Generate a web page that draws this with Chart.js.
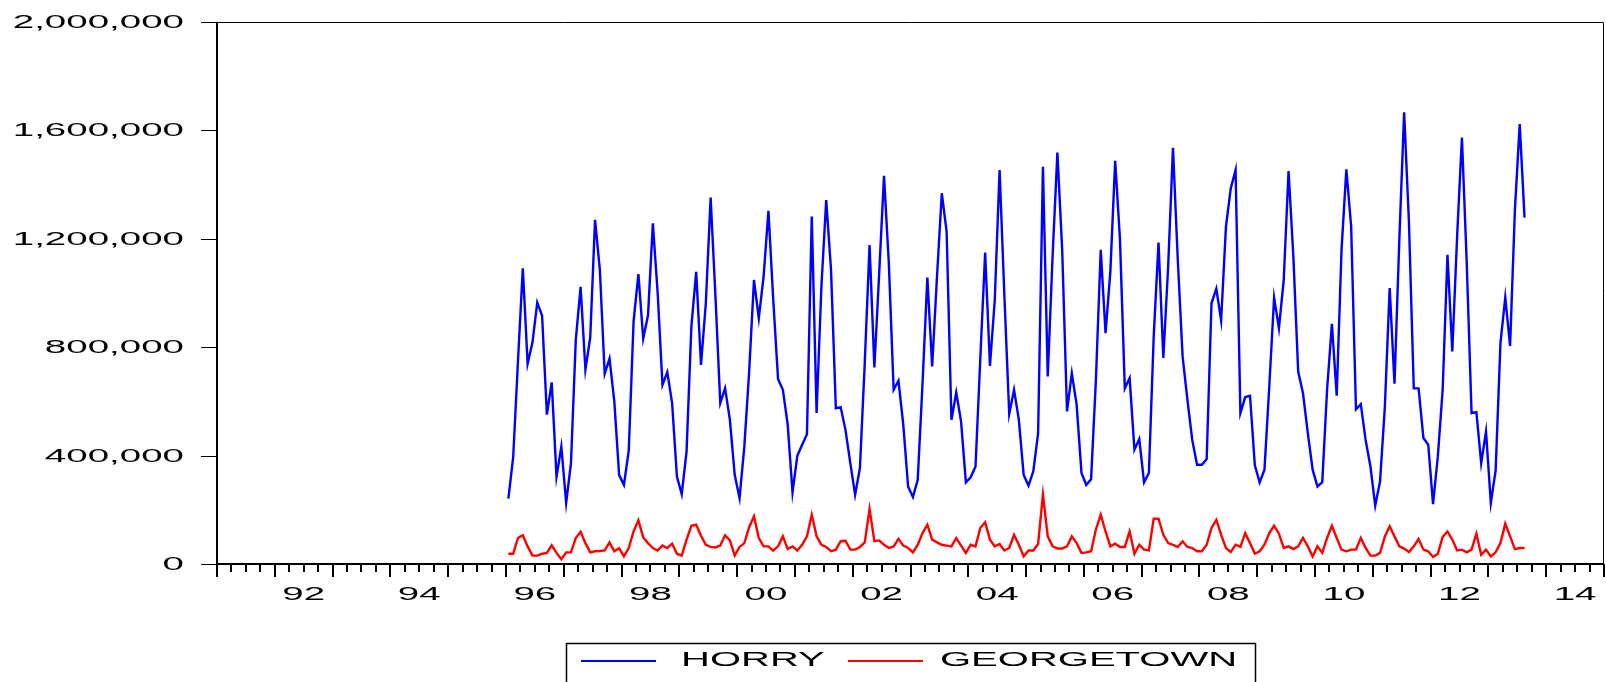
<!DOCTYPE html>
<html>
<head>
<meta charset="utf-8">
<script src="https://cdn.jsdelivr.net/npm/chart.js@4.4.1/dist/chart.umd.min.js"></script>
<style>
  body { margin: 0; background: #fff; }
  #wrap { width: 1606px; height: 682px; }
</style>
</head>
<body>
<div id="wrap"><canvas id="chart" width="1606" height="682"></canvas></div>
<script>
// monthly series, first observation 1996M1
const primerAnio = 1996;

const horry = [
  241000, 394000, 750000, 1091000, 739000, 817000, 965000, 917000, 551000, 670000, 322000, 433000,
  226000, 372000, 827000, 1023000, 717000, 836000, 1270000, 1085000, 702000, 758000, 600000, 328000,
  292000, 419000, 895000, 1070000, 832000, 918000, 1257000, 1000000, 661000, 708000, 594000, 323000,
  258000, 415000, 876000, 1078000, 735000, 962000, 1352000, 987000, 594000, 649000, 532000, 329000,
  243000, 434000, 710000, 1048000, 907000, 1061000, 1303000, 975000, 682000, 643000, 514000, 264000,
  399000, 440000, 479000, 1282000, 557000, 1024000, 1343000, 1085000, 575000, 579000, 495000, 372000,
  256000, 354000, 741000, 1177000, 725000, 1073000, 1432000, 1110000, 643000, 676000, 514000, 286000,
  247000, 311000, 667000, 1057000, 729000, 1060000, 1368000, 1227000, 532000, 633000, 526000, 301000,
  320000, 360000, 760000, 1149000, 731000, 975000, 1454000, 987000, 554000, 643000, 532000, 329000,
  289000, 342000, 483000, 1466000, 692000, 1134000, 1518000, 1159000, 563000, 704000, 587000, 336000,
  292000, 313000, 680000, 1159000, 852000, 1079000, 1488000, 1196000, 648000, 686000, 422000, 461000,
  301000, 336000, 839000, 1186000, 760000, 1097000, 1536000, 1122000, 766000, 606000, 458000, 366000,
  366000, 387000, 962000, 1016000, 898000, 1245000, 1386000, 1454000, 557000, 616000, 621000, 364000,
  301000, 348000, 655000, 983000, 870000, 1048000, 1450000, 1134000, 710000, 630000, 483000, 348000,
  286000, 302000, 643000, 886000, 621000, 1159000, 1456000, 1245000, 571000, 590000, 458000, 360000,
  215000, 305000, 581000, 1018000, 665000, 1196000, 1667000, 1260000, 648000, 648000, 465000, 440000,
  221000, 397000, 643000, 1141000, 784000, 1208000, 1574000, 1110000, 557000, 560000, 372000, 489000,
  225000, 345000, 815000, 984000, 805000, 1306000, 1623000, 1278000
];

const georgetown = [
  38000, 38000, 96000, 106000, 65000, 31000, 31000, 38000, 41000, 69000, 41000, 18000,
  43000, 43000, 96000, 119000, 77000, 43000, 47000, 48000, 50000, 80000, 47000, 58000,
  28000, 59000, 120000, 161000, 98000, 77000, 59000, 50000, 68000, 59000, 75000, 38000,
  31000, 90000, 141000, 145000, 104000, 71000, 63000, 61000, 68000, 106000, 87000, 31000,
  63000, 77000, 136000, 176000, 96000, 65000, 65000, 49000, 65000, 102000, 55000, 65000,
  50000, 71000, 102000, 182000, 102000, 71000, 63000, 47000, 53000, 84000, 86000, 53000,
  53000, 63000, 80000, 203000, 84000, 87000, 71000, 59000, 65000, 93000, 68000, 59000,
  43000, 71000, 114000, 145000, 90000, 80000, 71000, 68000, 65000, 96000, 68000, 41000,
  71000, 65000, 133000, 154000, 90000, 65000, 74000, 50000, 59000, 108000, 71000, 28000,
  50000, 50000, 74000, 256000, 102000, 65000, 57000, 57000, 65000, 102000, 77000, 41000,
  43000, 47000, 127000, 182000, 120000, 65000, 75000, 63000, 63000, 120000, 38000, 71000,
  53000, 50000, 167000, 167000, 108000, 77000, 71000, 63000, 84000, 63000, 59000, 47000,
  47000, 71000, 133000, 163000, 108000, 59000, 44000, 71000, 63000, 114000, 77000, 38000,
  47000, 71000, 114000, 141000, 112000, 59000, 65000, 55000, 65000, 96000, 65000, 28000,
  65000, 41000, 96000, 141000, 96000, 53000, 47000, 53000, 53000, 96000, 59000, 31000,
  31000, 41000, 102000, 139000, 102000, 65000, 57000, 44000, 65000, 92000, 53000, 47000,
  26000, 38000, 100000, 120000, 90000, 50000, 53000, 43000, 53000, 112000, 34000, 53000,
  28000, 43000, 77000, 149000, 102000, 55000, 59000, 59000
];

const valoresY = [0, 400000, 800000, 1200000, 1600000, 2000000];
const etiquetasX = ['92', '94', '96', '98', '00', '02', '04', '06', '08', '10', '12', '14'];
const aniosEtiqueta = [1992, 1994, 1996, 1998, 2000, 2002, 2004, 2006, 2008, 2010, 2012, 2014];
const series = ['HORRY', 'GEORGETOWN'];

function aPuntos(valores) {
  // each month sits in the middle of its slot
  return valores.map(function (v, i) {
    return { x: primerAnio + (i + 0.5) / 12, y: v };
  });
}

// text in the original is stretched sideways, so draw it scaled
const FUENTE = '"Liberation Sans", Arial, sans-serif';
function textoAncho(ctx, texto, x, y, align, size, pxEm) {
  ctx.save();
  ctx.font = size + 'px ' + FUENTE;
  ctx.textBaseline = 'middle';
  ctx.textAlign = 'left';
  let sx = pxEm / size;
  let w = ctx.measureText(texto).width * sx;
  let izq = x;
  if (align === 'right') izq = x - w;
  if (align === 'center') izq = x - w / 2;
  ctx.translate(izq, y);
  ctx.scale(sx, 1);
  ctx.fillStyle = '#000';
  ctx.fillText(texto, 0, 0);
  ctx.restore();
}

const ejes = {
  id: 'ejes',
  afterDraw: function (chart) {
    let ctx = chart.ctx;
    let area = chart.chartArea;
    let sx = chart.scales.x;
    let sy = chart.scales.y;
    ctx.save();
    ctx.strokeStyle = '#000';

    // frame top / right
    ctx.lineWidth = 1;
    ctx.beginPath();
    ctx.moveTo(area.left, area.top + 0.5);
    ctx.lineTo(area.right - 0.5, area.top + 0.5);
    ctx.lineTo(area.right - 0.5, area.bottom);
    ctx.stroke();

    // left and bottom axis
    ctx.lineWidth = 2;
    ctx.beginPath();
    ctx.moveTo(area.left, area.top);
    ctx.lineTo(area.left, area.bottom);
    ctx.lineTo(area.right, area.bottom);
    ctx.stroke();

    // y ticks and labels
    ctx.lineWidth = 1;
    valoresY.forEach(function (v) {
      let py = Math.round(sy.getPixelForValue(v)) + 0.5;
      ctx.beginPath();
      ctx.moveTo(area.left - 16, py);
      ctx.lineTo(area.left, py);
      ctx.stroke();
      textoAncho(ctx, v.toLocaleString('en-US'), area.left - 33, py, 'right', 18.5, 38.5);
    });

    // x ticks: yearly long, quarterly short
    ctx.lineWidth = 2;
    for (let a = sx.min; a <= sx.max + 0.001; a += 0.25) {
      let px = Math.round(sx.getPixelForValue(a));
      let largo = Math.abs(a - Math.round(a)) < 0.001 ? 13 : 8;
      ctx.beginPath();
      ctx.moveTo(px, area.bottom);
      ctx.lineTo(px, area.bottom + largo);
      ctx.stroke();
    }
    etiquetasX.forEach(function (t, k) {
      let px = sx.getPixelForValue(aniosEtiqueta[k] + 0.5);
      textoAncho(ctx, t, px, area.bottom + 31, 'center', 18.5, 38.5);
    });

    // legend box
    ctx.lineWidth = 1.5;
    ctx.strokeRect(566.5, 643.5, 689, 60);
    let legX = [581, 848];
    let txtX = [681, 940];
    chart.data.datasets.forEach(function (ds, k) {
      ctx.strokeStyle = ds.borderColor;
      ctx.lineWidth = 2;
      ctx.beginPath();
      ctx.moveTo(legX[k], 661);
      ctx.lineTo(legX[k] + 75, 661);
      ctx.stroke();
      textoAncho(ctx, ds.label, txtX[k], 661, 'left', 19.5, 40);
    });
    ctx.restore();
  }
};

let ctx = document.getElementById('chart');
let grafica = new Chart(ctx, {
  type: 'line',
  data: {
    datasets: [
      {
        label: series[0],
        data: aPuntos(horry),
        borderColor: '#0000ff',
        borderWidth: 2.4,
        pointRadius: 0,
        tension: 0,
        fill: false
      },
      {
        label: series[1],
        data: aPuntos(georgetown),
        borderColor: '#ff0000',
        borderWidth: 2.4,
        pointRadius: 0,
        tension: 0,
        fill: false
      }
    ]
  },
  options: {
    responsive: false,
    animation: false,
    layout: { padding: { left: 217, right: 2, top: 22, bottom: 118 } },
    scales: {
      x: { type: 'linear', min: 1991, max: 2015, display: false },
      y: { min: 0, max: 2000000, display: false }
    },
    plugins: {
      legend: { display: false },
      tooltip: { enabled: false }
    }
  },
  plugins: [ejes]
});
</script>
</body>
</html>
